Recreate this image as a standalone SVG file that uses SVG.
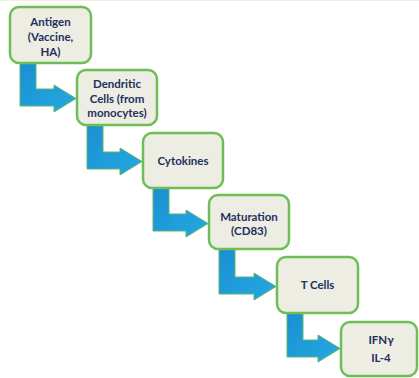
<svg xmlns="http://www.w3.org/2000/svg" width="419" height="378" viewBox="0 0 419 378">
<style>
.box{fill:#EEEDE3;stroke:#6DBE55;stroke-width:2.5}
.arr{fill:url(#g);stroke:#5DB86A;stroke-width:1}
text{font-family:Lato,"Open Sans","Liberation Sans",sans-serif;font-weight:bold;font-size:11.5px;fill:#22305E;text-anchor:middle}
</style>
<defs>
<linearGradient id="g" x1="0" y1="0" x2="1" y2="1">
<stop offset="0" stop-color="#1A8ED2"/>
<stop offset="1" stop-color="#25A9E1"/>
</linearGradient>
</defs>
<rect x="0" y="0" width="419" height="378" fill="#FFFFFF"/>
<line x1="0" y1="0.5" x2="419" y2="0.5" stroke="#E8F4DC" stroke-width="1"/>
<g id="connectors">
<path class="arr" d="M20,60 H36 V89 H54 V85 L76,98.5 L54,112 V106 H20 Z"/>
<path class="arr" d="M87,122 H103 V152 H120 V148 L142,161.5 L120,175 V169 H87 Z"/>
<path class="arr" d="M153,185 H169 V214 H186 V210 L208,223.5 L186,237 V231 H153 Z"/>
<path class="arr" d="M219,246 H235 V277 H254 V273 L276,286.5 L254,300 V294 H219 Z"/>
<path class="arr" d="M287,310 H303 V340 H318 V335 L340,348.5 L318,362 V357 H287 Z"/>
</g>
<g id="antigen">
<rect class="box" x="10" y="7" width="81" height="56" rx="9"/>
<text x="50.5" y="25.5">Antigen</text>
<text x="50.5" y="40.5">(Vaccine,</text>
<text x="50.5" y="55.5">HA)</text>
</g>
<g id="dendritic">
<rect class="box" x="77" y="70" width="80" height="55" rx="9"/>
<text x="117" y="88">Dendritic</text>
<text x="117" y="102.5">Cells (from</text>
<text x="117" y="117">monocytes)</text>
</g>
<g id="cytokines">
<rect class="box" x="143" y="133" width="80" height="55" rx="9"/>
<text x="183" y="165">Cytokines</text>
</g>
<g id="maturation">
<rect class="box" x="209" y="195" width="80" height="54" rx="9"/>
<text x="249" y="221">Maturation</text>
<text x="249" y="234.5">(CD83)</text>
</g>
<g id="tcells">
<rect class="box" x="277" y="257" width="81" height="56" rx="9"/>
<text x="317.5" y="289">T Cells</text>
</g>
<g id="ifng">
<rect class="box" x="341" y="322" width="76" height="54" rx="9"/>
<text x="381" y="344">IFNγ</text>
<text x="381" y="362">IL-4</text>
</g>
</svg>
